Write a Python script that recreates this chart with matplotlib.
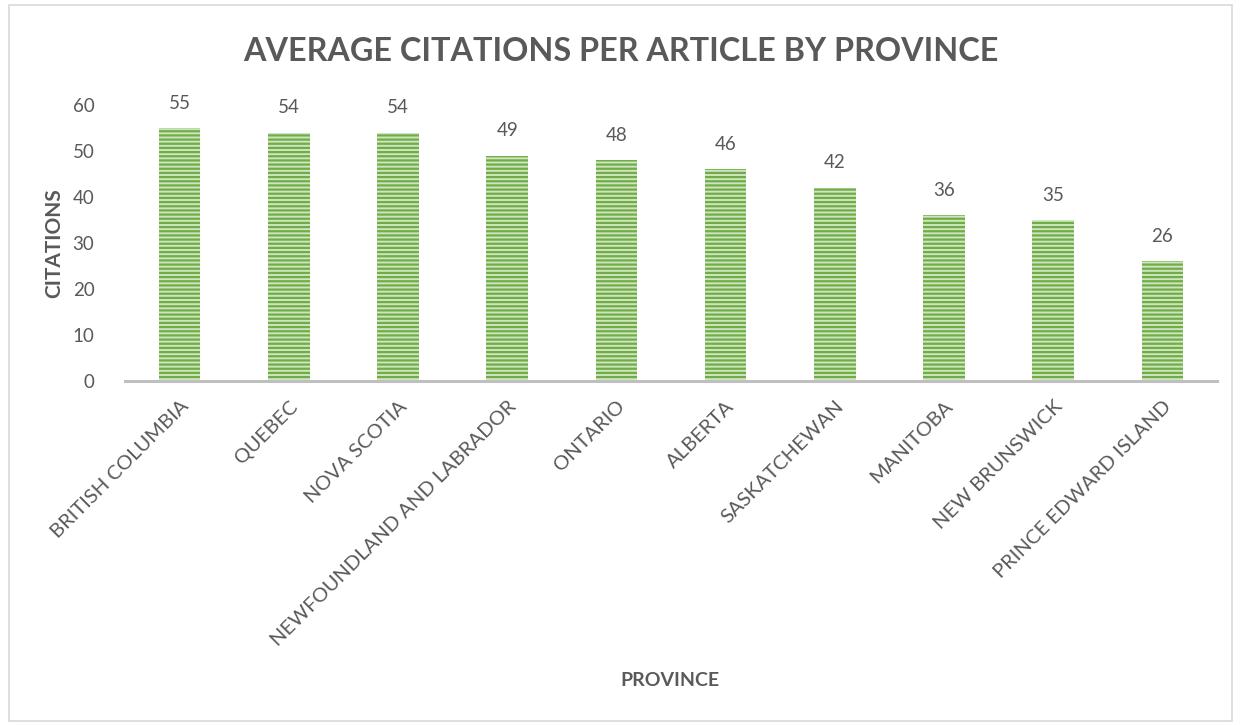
import matplotlib.pyplot as plt

provinces = ["BRITISH COLUMBIA", "QUEBEC", "NOVA SCOTIA", "NEWFOUNDLAND AND LABRADOR",
             "ONTARIO", "ALBERTA", "SASKATCHEWAN", "MANITOBA", "NEW BRUNSWICK",
             "PRINCE EDWARD ISLAND"]
citations = [55, 54, 54, 49, 48, 46, 42, 36, 35, 26]
y_ticks = [0, 10, 20, 30, 40, 50, 60]

txt = "#595959"
plt.rcParams['font.family'] = ['Lato', 'DejaVu Sans']
plt.rcParams['hatch.linewidth'] = 1.6

fig = plt.figure(figsize=(12.41, 7.25), dpi=100)
# chart border
fig.patches.append(plt.Rectangle((0.007, 0.005), 0.986, 0.988, transform=fig.transFigure,
                                 fill=False, edgecolor="#d9d9d9", linewidth=1.2))

ax = fig.add_axes([0.1007, 0.4745, 0.88, 0.3807])
x = range(len(provinces))
# edgecolor drives the stripe colour, the outline itself is not drawn
bars = ax.bar(x, citations, width=0.38, color="#cfe5c0", edgecolor="#70AD47",
              linewidth=0, hatch="----")
for xi, v in zip(x, citations):
    ax.text(xi, v + 5.4, str(v), ha="center", va="center", fontsize=13.5, color=txt)

ax.set_xlim(-0.5, len(provinces) - 0.5)
ax.set_ylim(0, 60)
ax.set_yticks(y_ticks)
ax.set_xticks(list(x))
ax.set_xticklabels(provinces, rotation=45, ha="right", rotation_mode="anchor",
                   fontsize=14.5, color=txt)
ax.tick_params(axis="y", length=0, labelsize=13.5, labelcolor=txt, pad=22)
ax.tick_params(axis="x", length=0, pad=12)
for s in ["top", "right", "left"]:
    ax.spines[s].set_visible(False)
ax.spines["bottom"].set_color("#bfbfbf")
ax.spines["bottom"].set_linewidth(2.2)

ax.set_ylabel("CITATIONS", fontsize=15, fontweight="bold", color=txt, labelpad=6)
fig.text(0.54, 0.0607, "PROVINCE", ha="center", va="center", fontsize=14,
         fontweight="bold", color=txt)
fig.text(0.5, 0.929, "AVERAGE CITATIONS PER ARTICLE BY PROVINCE", ha="center",
         va="center", fontsize=23.3, fontweight="bold", color=txt)

fig.savefig("out.png", dpi=100)
